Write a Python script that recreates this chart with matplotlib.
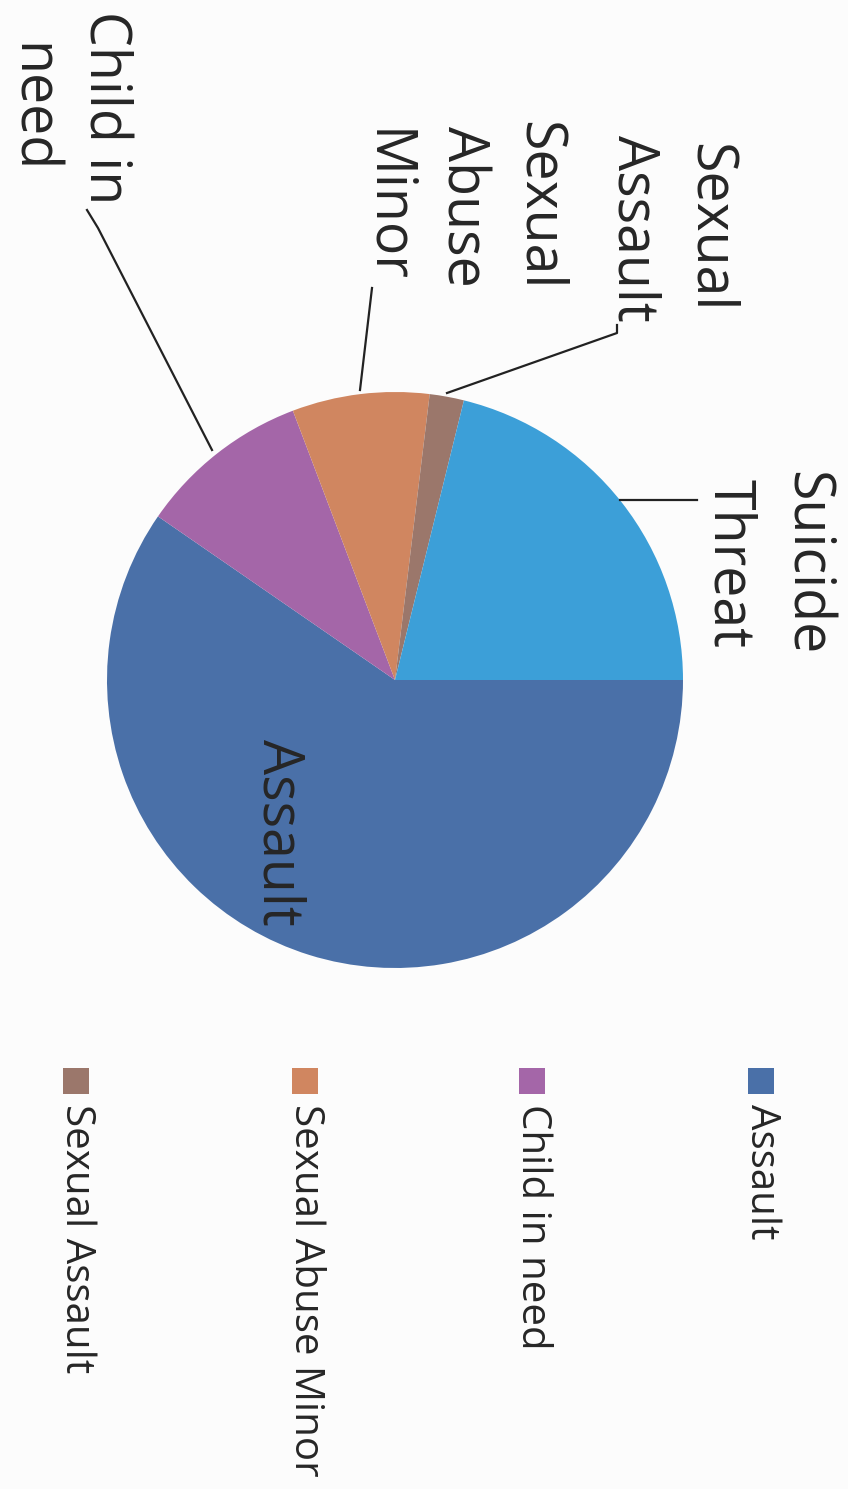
import matplotlib
matplotlib.use("Agg")
import matplotlib.pyplot as plt
from matplotlib.patches import Rectangle

plt.rcParams['font.family'] = ['Open Sans', 'DejaVu Sans']

categories = ["Assault", "Child in need", "Sexual Abuse Minor", "Sexual Assault", "Suicide Threat"]
counts = [31, 5, 4, 1, 11]
colors = ["#4a70a8", "#a466a8", "#d08660", "#9b776b", "#3c9fd8"]
legend_items = ["Assault", "Child in need", "Sexual Abuse Minor", "Sexual Assault"]

W, H = 848, 1489
fig = plt.figure(figsize=(W / 100, H / 100), dpi=100)
fig.patch.set_facecolor("#fcfcfc")
ax = fig.add_axes([0, 0, 1, 1])

def Y(y):
    return H - y

cx, cy, r = 395, Y(680), 288
wedges, _ = ax.pie(counts, colors=colors, startangle=0, counterclock=False,
                   center=(cx, cy), radius=r, wedgeprops=dict(linewidth=0))
ax.set_xlim(0, W)
ax.set_ylim(0, H)
ax.set_aspect("equal")
ax.axis("off")

fs = 40
tc = "#262626"
# data labels (rotated chart)
labels = {
    "Assault": ("Assault", 278, 832),
    "Child in need": ("Child in\nneed", 67, 108),
    "Sexual Abuse Minor": ("Sexual\nAbuse\nMinor", 462, 206),
    "Sexual Assault": ("Sexual\nAssault", 671, 228),
    "Suicide Threat": ("Suicide\nThreat", 767, 563),
}
for cat in categories:
    txt, x, y = labels[cat]
    ls = 1.38 if cat == "Child in need" else 1.45
    ax.text(x, Y(y), txt, rotation=-90, ha="center", va="center",
            multialignment="center", fontsize=fs, color=tc, linespacing=ls)

# leader lines
leaders = [
    [(620, 500), (697, 500)],
    [(447, 393), (617, 333), (617, 325)],
    [(360, 390), (372, 288)],
    [(212, 450), (98, 228), (87, 210)],
]
for pts in leaders:
    ax.plot([p[0] for p in pts], [Y(p[1]) for p in pts], color="#222222", lw=1.6)

# legend (rotated)
leg_x = [761, 532, 305, 76]
for name, x in zip(legend_items, leg_x):
    c = colors[categories.index(name)]
    ax.add_patch(Rectangle((x - 13, Y(1094)), 26, 26, facecolor=c, edgecolor="none"))
    ax.text(x, Y(1104), name, rotation=-90, ha="center", va="top",
            fontsize=29, color=tc)

fig.savefig("out.png", dpi=100, facecolor=fig.get_facecolor())
